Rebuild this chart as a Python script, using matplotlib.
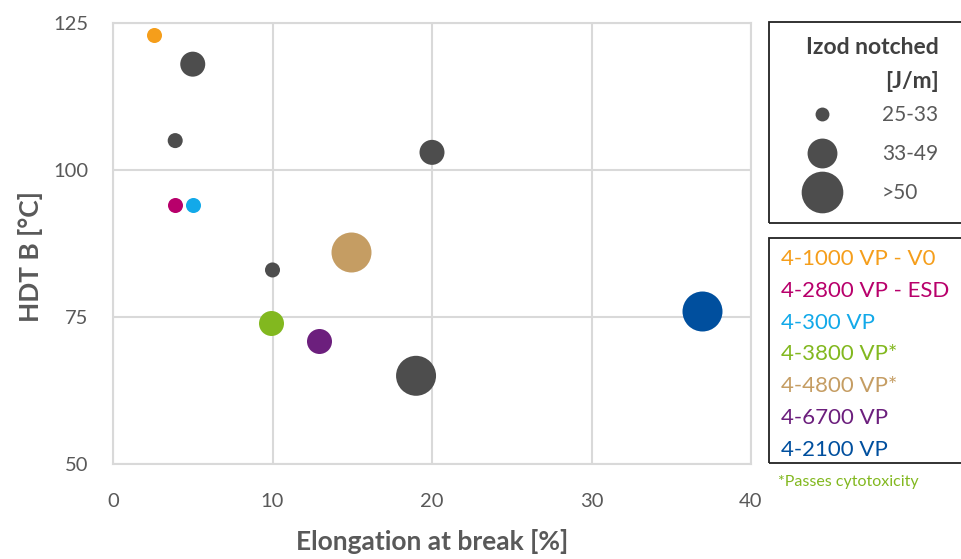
import matplotlib
matplotlib.use('Agg')
import matplotlib.pyplot as plt
from matplotlib.lines import Line2D
from matplotlib.patches import Rectangle

plt.rcParams['font.family'] = ['Lato', 'DejaVu Sans']

# ---- data ----
grades = ['4-1000 VP - V0', '4-2800 VP - ESD', '4-300 VP', '4-3800 VP*',
          '4-4800 VP*', '4-6700 VP', '4-2100 VP']
grade_elong = [2.6, 3.9, 5.0, 9.9, 14.9, 12.9, 36.9]
grade_hdt = [123, 94, 94, 74, 86, 71, 76]
grade_izod = ['25-33', '25-33', '25-33', '33-49', '>50', '33-49', '>50']
grade_colors = ['#F59E1B', '#B8006B', '#12A9E9', '#82B81F', '#C59D63', '#6C1F7D', '#004F9E']

other_elong = [5.0, 3.9, 20.0, 10.0, 19.0]
other_hdt = [118, 105, 103, 83, 65]
other_izod = ['33-49', '25-33', '33-49', '25-33', '>50']

izod_classes = ['25-33', '33-49', '>50']
x_ticks = [0, 10, 20, 30, 40]
y_ticks = [50, 75, 100, 125]

# ---- styling ----
size_map = {'25-33': 117, '33-49': 324, '>50': 829}
legend_ms = {'25-33': 10, '33-49': 21.5, '>50': 30}
GRAY = '#4D4D4D'
TXT = '#595959'
GRID = '#D9D9D9'

W, H = 961, 559
def fx(p):
    return p / W
def fy(p):
    return 1 - p / H

fig = plt.figure(figsize=(W / 100, H / 100), dpi=100)
ax = fig.add_axes([fx(113), fy(464), (751 - 113) / W, (464 - 23) / H])

ax.scatter(other_elong, other_hdt, s=[size_map[k] for k in other_izod],
           color=GRAY, linewidths=0, zorder=3)
scs = []
for name, x, y, iz, c in zip(grades, grade_elong, grade_hdt, grade_izod, grade_colors):
    scs.append(ax.scatter([x], [y], s=size_map[iz], color=c, linewidths=0,
                          zorder=3, label=name))

ax.set_xlim(x_ticks[0], x_ticks[-1])
ax.set_ylim(y_ticks[0], y_ticks[-1])
ax.set_xticks(x_ticks)
ax.set_yticks(y_ticks)
ax.grid(True, color=GRID, linewidth=1.5)
ax.set_axisbelow(True)
for sp in ax.spines.values():
    sp.set_color(GRID)
    sp.set_linewidth(1.5)
ax.tick_params(length=0, labelsize=14.5, labelcolor=TXT)
ax.tick_params(axis='x', pad=21)
ax.tick_params(axis='y', pad=18)

ax.set_xlabel('Elongation at break [%]', fontsize=19, fontweight='bold', color=TXT)
ax.set_ylabel('HDT B [°C]', fontsize=19, fontweight='bold', color=TXT)
ax.xaxis.set_label_coords(0.5, (464 - 529) / 441)
ax.yaxis.set_label_coords((43 - 113) / 638, (464 - 257) / 441)

# ---- legend frames (extend past the right edge, as in the reference) ----
for top, bot in [(22, 223), (238, 463)]:
    fig.patches.append(Rectangle((fx(769), fy(bot)), (990 - 769) / W, (bot - top) / H,
                                 transform=fig.transFigure, fill=False,
                                 edgecolor='#222222', linewidth=1.3))

# ---- size legend ----
fig.text(fx(939), fy(48), 'Izod notched', ha='right', va='center',
         fontsize=16.5, fontweight='bold', color='#404040')
fig.text(fx(939), fy(82), '[J/m]', ha='right', va='center',
         fontsize=16.5, fontweight='bold', color='#404040')
size_handles = [Line2D([], [], linestyle='none', marker='o', color=GRAY,
                       markersize=legend_ms[k], markeredgewidth=0) for k in izod_classes]
leg1 = fig.legend(size_handles, izod_classes, loc='upper left',
                  bbox_to_anchor=(fx(790.75), fy(105)), bbox_transform=fig.transFigure,
                  fontsize=15, labelspacing=0.91, handlelength=3,
                  handletextpad=1.38, borderpad=0, borderaxespad=0, frameon=False)
for t in leg1.get_texts():
    t.set_color(TXT)

# ---- grade legend ----
leg2 = fig.legend(scs, grades, loc='upper left',
                  bbox_to_anchor=(fx(781), fy(249)), bbox_transform=fig.transFigure,
                  fontsize=16, labelspacing=0.53, handlelength=0,
                  handletextpad=0, borderpad=0, borderaxespad=0, frameon=False)
for h in leg2.legend_handles:
    h.set_visible(False)
for t, c in zip(leg2.get_texts(), grade_colors):
    t.set_color(c)

fig.text(fx(778), fy(482), '*Passes cytotoxicity', color='#82B81F',
         fontsize=11.5, va='center', ha='left')

fig.savefig('out.png', dpi=100)
